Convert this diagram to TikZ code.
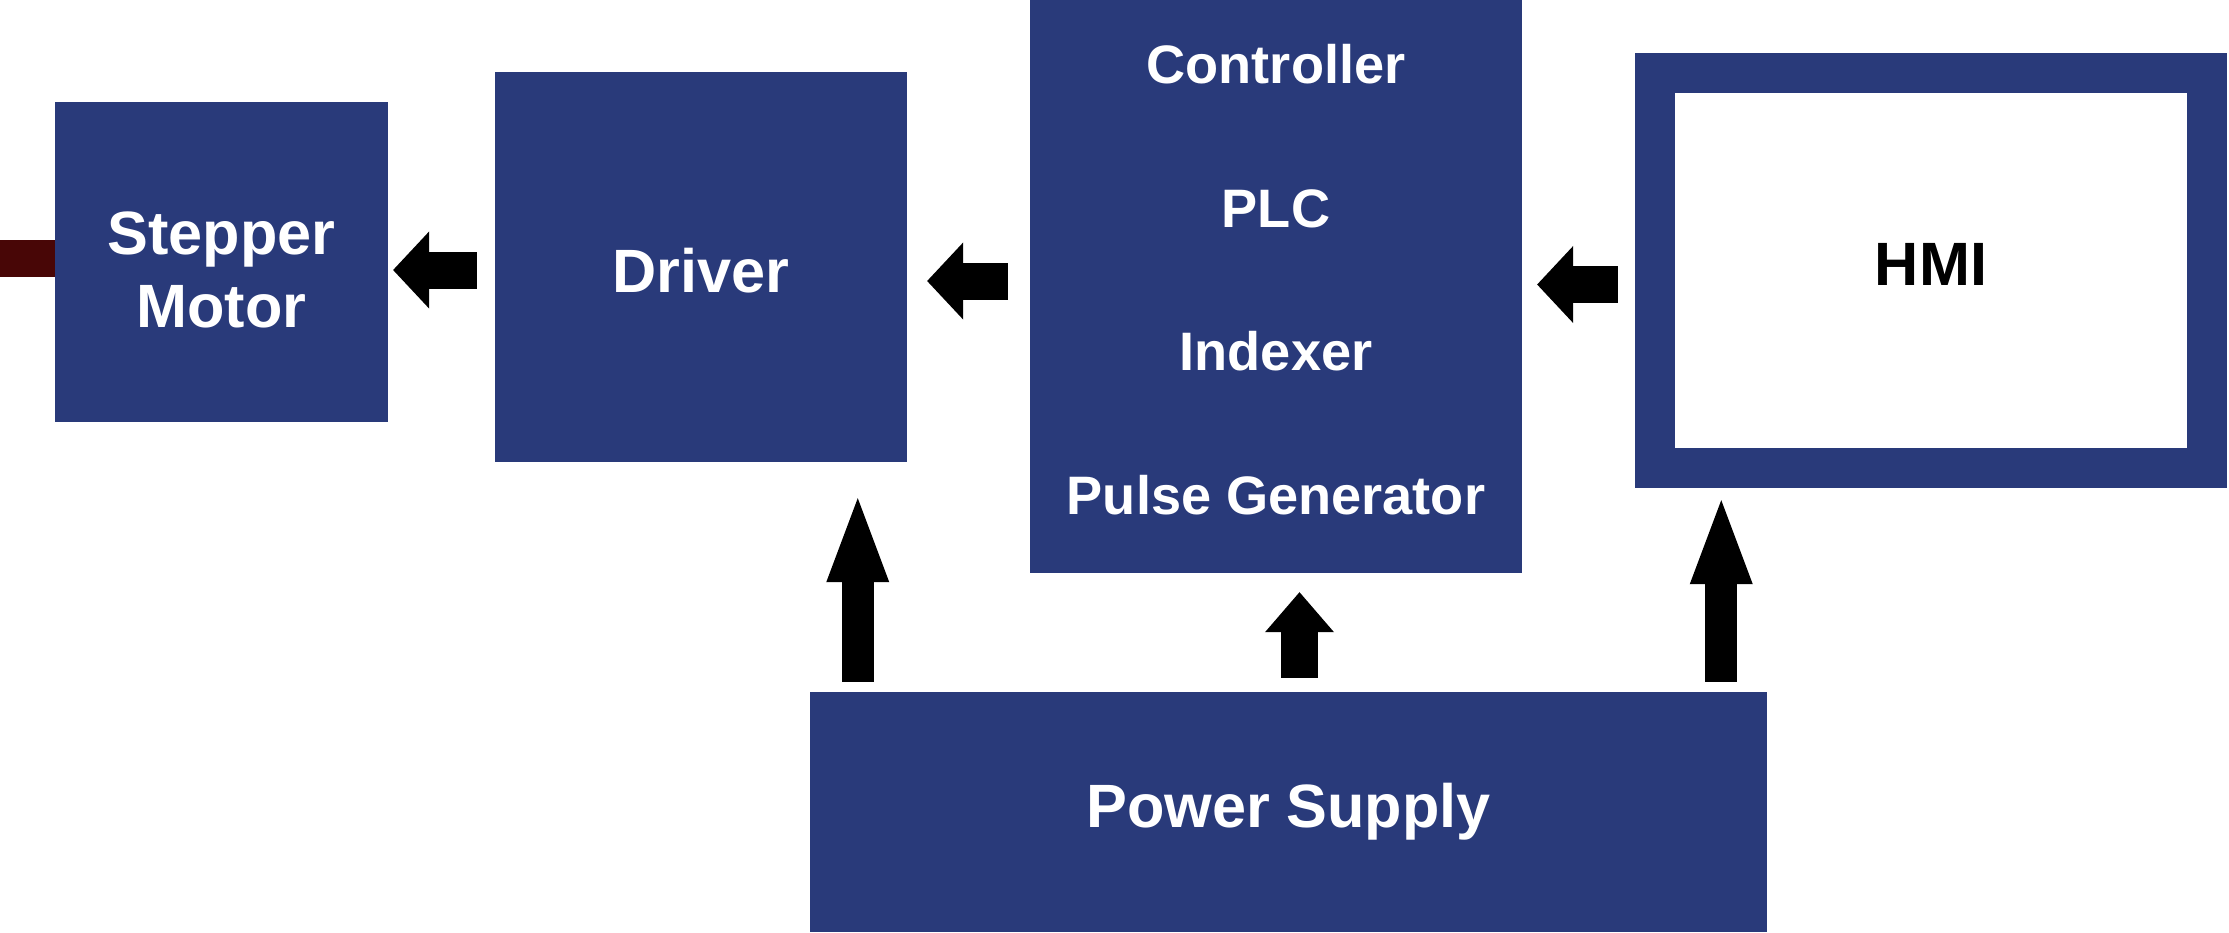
\documentclass[tikz,border=0pt]{standalone}
\usepackage{fontspec}
\setmainfont{Liberation Sans}
\usetikzlibrary{arrows.meta}
\definecolor{blockblue}{RGB}{41,58,122}
\definecolor{shaftred}{RGB}{72,6,6}

\begin{document}
\begin{tikzpicture}[x=0.01cm,y=-0.01cm,
  block/.style={fill=blockblue, draw=none, inner sep=0pt, outer sep=0pt,
    text=white, align=center,
    font=\bfseries\fontsize{17.4}{20.8}\selectfont},
  hflow/.style={line width=0.37cm, shorten <=#1,
    -{Triangle[length=0.36cm 0,width=0.77cm 0,line width=0pt 0]}},
  vlong/.style={line width=0.32cm,
    -{Triangle[length=0.84cm 0,width=0.63cm 0,line width=0pt 0]}},
  vshort/.style={line width=0.37cm,
    -{Triangle[length=0.40cm 0,width=0.69cm 0,line width=0pt 0]}}
]
\useasboundingbox (0,0) rectangle (2229,932);

% motor shaft
\fill[shaftred] (0,240) rectangle (56,277);

% blocks
\node[block, minimum width=3.33cm, minimum height=3.2cm]
  (motor) at (221.5,262) {\rule{0pt}{0.58cm}Stepper\\Motor};
\node[block, minimum width=4.12cm, minimum height=3.9cm]
  (drv) at (701,267) {\rule{0pt}{0.52cm}Driver};
\node[block, minimum width=4.92cm, minimum height=5.73cm, text depth=0.14cm,
  font=\bfseries\fontsize{15.4}{40.8}\selectfont] (ctrl) at (1276,286.5)
  {Controller\\PLC\\Indexer\\Pulse Generator};
\node[fill=white, draw=blockblue, line width=0.4cm, inner sep=0pt,
  minimum width=5.52cm, minimum height=3.95cm, text depth=0.12cm,
  font=\bfseries\fontsize{17.4}{20.8}\selectfont] (hmi) at (1931,270.5) {HMI};
\node[block, minimum width=9.57cm, minimum height=2.4cm] (ps) at (1288.5,812)
  {Power Supply};

% signal flow
\draw[hflow=0.18cm, shorten >=0.05cm] ([yshift=-0.03cm]drv.west)
  -- ([yshift=-0.03cm]drv.west -| motor.east);
\draw[hflow=0.22cm, shorten >=0.2cm] ([yshift=0.055cm]ctrl.west)
  -- ([yshift=0.055cm]ctrl.west -| drv.east);
\draw[hflow=0.17cm, shorten >=0.15cm] ([yshift=0.02cm]ctrl.east -| hmi.west)
  -- ([yshift=0.02cm]ctrl.east);

% power feeds
\draw[vlong, shorten <=0.1cm, shorten >=0.36cm] ([xshift=0.48cm]ps.north west)
  -- ([xshift=0.48cm]ps.north west |- drv.south);
\draw[vshort, shorten <=0.14cm, shorten >=0.19cm] ([xshift=0.11cm]ps.north)
  -- ([xshift=0.11cm]ps.north |- ctrl.south);
\draw[vlong, shorten <=0.1cm, shorten >=0.12cm] ([xshift=-0.46cm]ps.north east)
  -- ([xshift=-0.46cm]ps.north east |- hmi.south);
\end{tikzpicture}
\end{document}
